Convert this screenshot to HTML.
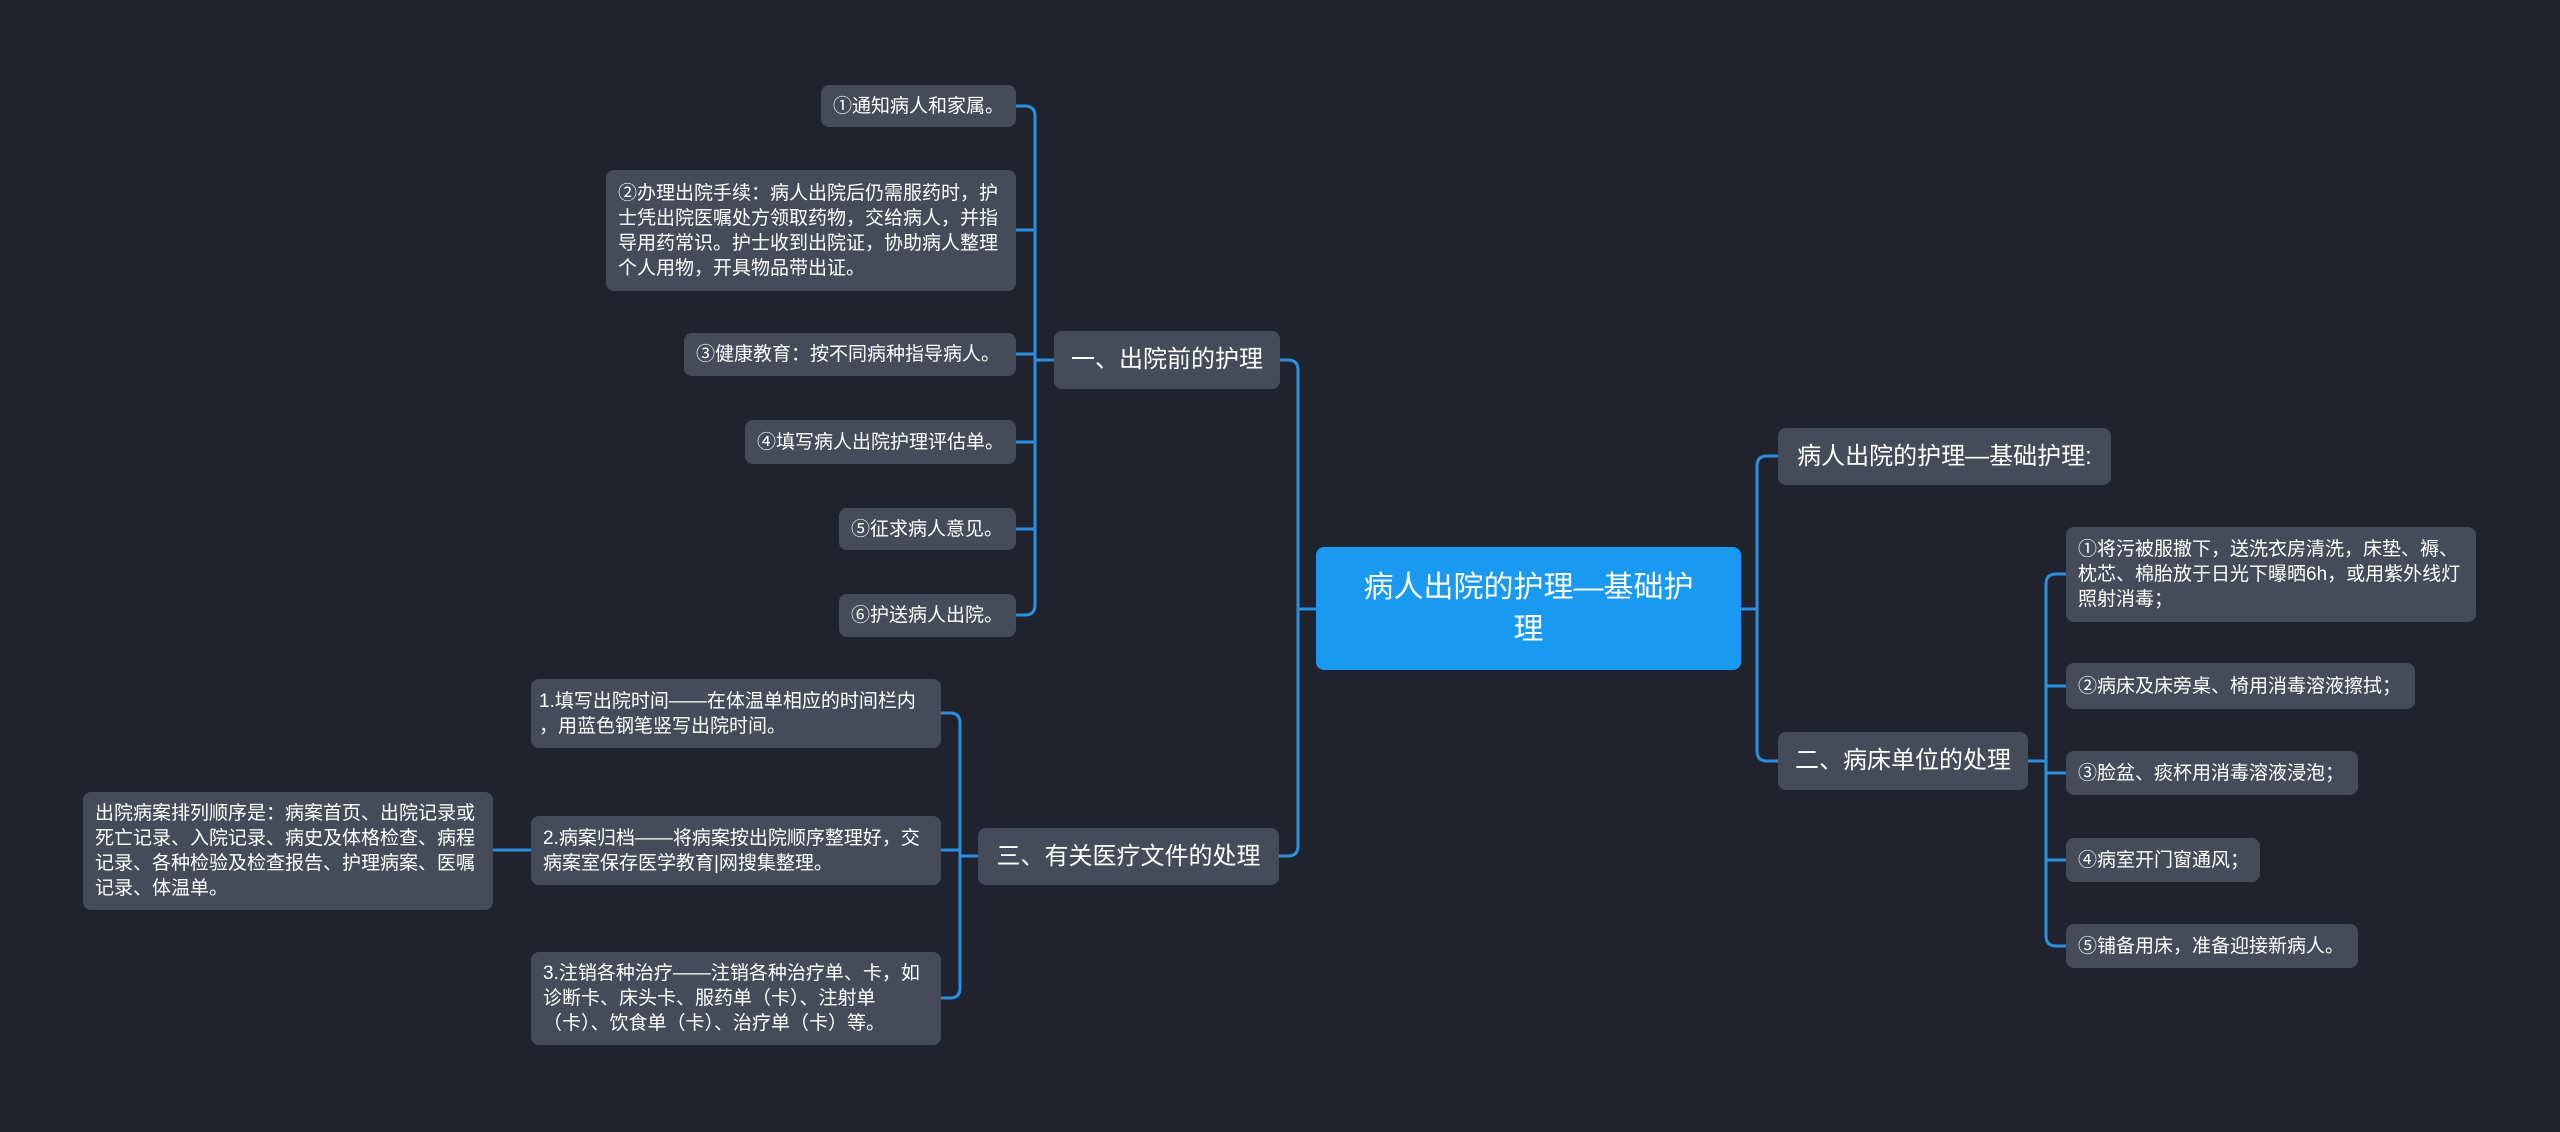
<!DOCTYPE html>
<html><head><meta charset="utf-8"><style>
html,body{margin:0;padding:0;background:#20232e;width:2560px;height:1132px;overflow:hidden}
.n{position:absolute;box-sizing:border-box;background:#464b5a;border-radius:8px;color:#fff;display:flex;align-items:center;font-family:"Liberation Sans","Noto Sans CJK SC",sans-serif;font-size:19px;line-height:25px;padding:0 12px;word-break:break-all}
.s{white-space:nowrap;overflow:hidden}
.m{font-size:24px;line-height:32px;padding:0 12px;white-space:nowrap;justify-content:center}
.c{background:#1a99f0;font-size:30px;line-height:42px;justify-content:center;text-align:center;padding:0 20px}
svg{position:absolute;left:0;top:0}
</style></head><body>
<svg width="2560" height="1132"><g fill="none" stroke="#2b8fe0" stroke-width="3">
<path d="M1316 609 H1298 M1279 360 H1288 Q1298 360 1298 370 V846 Q1298 856 1288 856 H1279"/>
<path d="M1741 609 H1757 M1778 456 H1767 Q1757 456 1757 466 V751 Q1757 761 1767 761 H1778"/>
<path d="M1055 360 H1035 M1016 106 H1025 Q1035 106 1035 116 V605 Q1035 615 1025 615 H1016 M1016 230 H1035 M1016 354 H1035 M1016 442 H1035 M1016 529 H1035"/>
<path d="M978 856 H960 M941 713 H950 Q960 713 960 723 V988 Q960 998 950 998 H941 M941 850 H960 M531 850 H493"/>
<path d="M2028 761 H2046 M2066 574 H2056 Q2046 574 2046 584 V936 Q2046 946 2056 946 H2066 M2066 686 H2046 M2066 773 H2046 M2066 860 H2046"/>
</g></svg>
<div class="n c" style="left:1316px;top:547px;width:425px;height:123px">病人出院的护理—基础护<br>理</div>
<div class="n m" style="left:1778px;top:428px;width:333px;height:57px">病人出院的护理—基础护理:</div>
<div class="n m" style="left:1778px;top:732px;width:250px;height:58px">二、病床单位的处理</div>
<div class="n" style="left:2066px;top:527px;width:410px;height:95px">①将污被服撤下，送洗衣房清洗，床垫、褥、枕芯、棉胎放于日光下曝晒6h，或用紫外线灯照射消毒；</div>
<div class="n s" style="left:2066px;top:663px;width:349px;height:46px">②病床及床旁桌、椅用消毒溶液擦拭；</div>
<div class="n s" style="left:2066px;top:751px;width:292px;height:44px">③脸盆、痰杯用消毒溶液浸泡；</div>
<div class="n s" style="left:2066px;top:838px;width:194px;height:44px">④病室开门窗通风；</div>
<div class="n s" style="left:2066px;top:924px;width:292px;height:44px">⑤铺备用床，准备迎接新病人。</div>
<div class="n m" style="left:1054px;top:331px;width:226px;height:58px">一、出院前的护理</div>
<div class="n s" style="left:821px;top:85px;width:195px;height:42px">①通知病人和家属。</div>
<div class="n" style="left:606px;top:170px;width:410px;height:121px">②办理出院手续：病人出院后仍需服药时，护士凭出院医嘱处方领取药物，交给病人，并指导用药常识。护士收到出院证，协助病人整理个人用物，开具物品带出证。</div>
<div class="n s" style="left:684px;top:333px;width:332px;height:43px">③健康教育：按不同病种指导病人。</div>
<div class="n s" style="left:745px;top:420px;width:271px;height:44px">④填写病人出院护理评估单。</div>
<div class="n s" style="left:839px;top:508px;width:177px;height:42px">⑤征求病人意见。</div>
<div class="n s" style="left:839px;top:594px;width:177px;height:43px">⑥护送病人出院。</div>
<div class="n m" style="left:978px;top:828px;width:301px;height:57px">三、有关医疗文件的处理</div>
<div class="n" style="left:531px;top:679px;width:410px;height:69px;padding:0 8px">1.填写出院时间——在体温单相应的时间栏内<br>，用蓝色钢笔竖写出院时间。</div>
<div class="n" style="left:531px;top:816px;width:410px;height:69px">2.病案归档——将病案按出院顺序整理好，交病案室保存医学教育|网搜集整理。</div>
<div class="n" style="left:531px;top:952px;width:410px;height:93px">3.注销各种治疗——注销各种治疗单、卡，如诊断卡、床头卡、服药单（卡）、注射单（卡）、饮食单（卡）、治疗单（卡）等。</div>
<div class="n" style="left:83px;top:792px;width:410px;height:118px">出院病案排列顺序是：病案首页、出院记录或死亡记录、入院记录、病史及体格检查、病程记录、各种检验及检查报告、护理病案、医嘱记录、体温单。</div>
</body></html>
